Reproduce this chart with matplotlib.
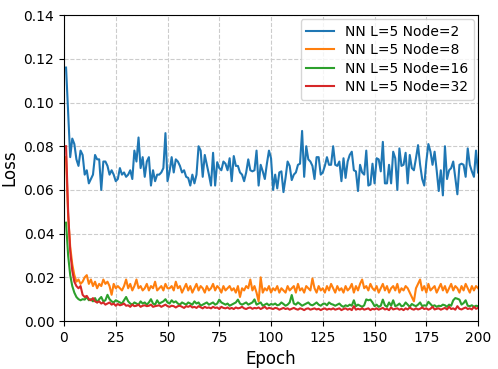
import matplotlib
matplotlib.use("Agg")
import matplotlib.pyplot as plt
import numpy as np

# loss per epoch
loss_n2 = [
    0.116, 0.095, 0.075, 0.0835, 0.081, 0.074, 0.071, 0.078, 0.076, 0.067,
    0.069, 0.063, 0.065, 0.067, 0.076, 0.074, 0.074, 0.060, 0.073, 0.073,
    0.071, 0.067, 0.069, 0.067, 0.064, 0.065, 0.070, 0.067, 0.068, 0.066,
    0.067, 0.069, 0.065, 0.078, 0.073, 0.084, 0.070, 0.075, 0.066, 0.073,
    0.075, 0.062, 0.069, 0.064, 0.067, 0.067, 0.068, 0.070, 0.086, 0.064,
    0.0685, 0.075, 0.068, 0.074, 0.073, 0.071, 0.068, 0.069, 0.066, 0.0655,
    0.062, 0.067, 0.063, 0.067, 0.080, 0.078, 0.066, 0.076, 0.0715, 0.067,
    0.062, 0.077, 0.062, 0.0727, 0.070, 0.069, 0.073, 0.072, 0.069, 0.0745,
    0.064, 0.0755, 0.071, 0.071, 0.068, 0.067, 0.064, 0.068, 0.074, 0.069,
    0.0685, 0.069, 0.078, 0.062, 0.0715, 0.0685, 0.065, 0.072, 0.078, 0.0745,
    0.060, 0.067, 0.0607, 0.068, 0.0685, 0.059, 0.0655, 0.073, 0.071, 0.0645,
    0.067, 0.068, 0.0715, 0.072, 0.087, 0.066, 0.080, 0.074, 0.073, 0.071,
    0.065, 0.075, 0.075, 0.067, 0.068, 0.071, 0.075, 0.0715, 0.0715, 0.080,
    0.0715, 0.071, 0.073, 0.064, 0.0745, 0.0655, 0.073, 0.076, 0.0775, 0.069,
    0.0685, 0.0595, 0.0715, 0.068, 0.067, 0.078, 0.062, 0.0625, 0.072, 0.063,
    0.0745, 0.074, 0.0685, 0.082, 0.063, 0.063, 0.0715, 0.063, 0.0775, 0.0745,
    0.060, 0.079, 0.071, 0.0715, 0.077, 0.063, 0.076, 0.070, 0.069, 0.0745,
    0.0805, 0.0715, 0.065, 0.062, 0.073, 0.081, 0.0775, 0.0715, 0.0775, 0.069,
    0.0595, 0.069, 0.0575, 0.080, 0.065, 0.069, 0.070, 0.073, 0.0655, 0.058,
    0.0715, 0.072, 0.0715, 0.066, 0.079, 0.0715, 0.0685, 0.066, 0.078, 0.068,
]

loss_n8 = [
    0.075, 0.048, 0.034, 0.026, 0.021, 0.018, 0.019, 0.017, 0.018, 0.020,
    0.021, 0.017, 0.019, 0.016, 0.018, 0.015, 0.017, 0.016, 0.019, 0.017,
    0.018, 0.016, 0.012, 0.017, 0.015, 0.016, 0.015, 0.014, 0.016, 0.019,
    0.015, 0.017, 0.014, 0.016, 0.019, 0.015, 0.016, 0.014, 0.015, 0.017,
    0.014, 0.016, 0.015, 0.018, 0.014, 0.015, 0.016, 0.014, 0.017, 0.015,
    0.015, 0.016, 0.014, 0.018, 0.015, 0.016, 0.013, 0.015, 0.017, 0.014,
    0.016, 0.013, 0.015, 0.017, 0.014, 0.016, 0.015, 0.013, 0.016, 0.014,
    0.015, 0.017, 0.014, 0.016, 0.015, 0.013, 0.016, 0.014, 0.015, 0.016,
    0.014, 0.015, 0.013, 0.016, 0.011, 0.015, 0.014, 0.016, 0.015, 0.019,
    0.014, 0.016, 0.013, 0.009, 0.020, 0.013, 0.015, 0.014, 0.016, 0.013,
    0.015, 0.014, 0.016, 0.013, 0.015, 0.014, 0.013, 0.016, 0.014, 0.015,
    0.016, 0.013, 0.017, 0.014, 0.015, 0.013, 0.016, 0.015, 0.014, 0.0195,
    0.015, 0.013, 0.016, 0.014, 0.015, 0.013, 0.016, 0.014, 0.017, 0.015,
    0.013, 0.016, 0.014, 0.015, 0.013, 0.016, 0.014, 0.015, 0.017, 0.013,
    0.016, 0.014, 0.017, 0.019, 0.015, 0.016, 0.014, 0.017, 0.015, 0.014,
    0.016, 0.013, 0.015, 0.017, 0.014, 0.016, 0.013, 0.015, 0.016, 0.014,
    0.017, 0.013, 0.015, 0.014, 0.016, 0.015, 0.013, 0.011, 0.009, 0.015,
    0.017, 0.019, 0.014, 0.016, 0.013, 0.017, 0.014, 0.015, 0.016, 0.013,
    0.015, 0.017, 0.014, 0.016, 0.013, 0.015, 0.017, 0.014, 0.016, 0.015,
    0.013, 0.016, 0.014, 0.017, 0.015, 0.013, 0.016, 0.014, 0.016, 0.015,
]

loss_n16 = [
    0.045, 0.030, 0.021, 0.016, 0.013, 0.011, 0.010, 0.0095, 0.010, 0.0098,
    0.011, 0.0095, 0.010, 0.009, 0.0105, 0.0085, 0.010, 0.011, 0.009, 0.0095,
    0.012, 0.010, 0.009, 0.0085, 0.0095, 0.009, 0.0085, 0.008, 0.0095, 0.011,
    0.009, 0.008, 0.0075, 0.0085, 0.008, 0.0075, 0.009, 0.008, 0.0085, 0.0075,
    0.0085, 0.010, 0.008, 0.0075, 0.0095, 0.008, 0.0085, 0.009, 0.010, 0.0085,
    0.008, 0.0095, 0.0085, 0.009, 0.008, 0.0075, 0.0085, 0.008, 0.0075, 0.0085,
    0.008, 0.0075, 0.009, 0.008, 0.0085, 0.007, 0.0075, 0.008, 0.0085, 0.0075,
    0.008, 0.0085, 0.0075, 0.008, 0.0098, 0.0085, 0.008, 0.0075, 0.008, 0.007,
    0.0075, 0.008, 0.0085, 0.0098, 0.008, 0.0075, 0.008, 0.0085, 0.0075, 0.008,
    0.0085, 0.0099, 0.0075, 0.008, 0.0085, 0.007, 0.0075, 0.008, 0.0072, 0.0078,
    0.0075, 0.008, 0.0072, 0.0075, 0.0085, 0.0078, 0.007, 0.0075, 0.0085, 0.0119,
    0.008, 0.0075, 0.0085, 0.0078, 0.007, 0.0075, 0.008, 0.0085, 0.0075, 0.0072,
    0.0078, 0.0085, 0.0075, 0.007, 0.0078, 0.008, 0.0072, 0.0085, 0.0078, 0.0075,
    0.007, 0.0075, 0.008, 0.007, 0.0065, 0.0072, 0.0068, 0.0075, 0.007, 0.0095,
    0.0068, 0.0075, 0.007, 0.0065, 0.0072, 0.0099, 0.0095, 0.0098, 0.0085, 0.0068,
    0.0075, 0.0065, 0.007, 0.0098, 0.0072, 0.0065, 0.0085, 0.007, 0.0095, 0.0068,
    0.0072, 0.008, 0.0068, 0.007, 0.0085, 0.0075, 0.0065, 0.0078, 0.0072, 0.0068,
    0.0075, 0.0085, 0.0068, 0.0072, 0.007, 0.0088, 0.0078, 0.0068, 0.0072, 0.0065,
    0.007, 0.0068, 0.0075, 0.0072, 0.0065, 0.0075, 0.007, 0.0095, 0.0105, 0.0102,
    0.0098, 0.0075, 0.0082, 0.0095, 0.007, 0.0068, 0.0072, 0.0065, 0.007, 0.0068,
]

loss_n32 = [
    0.080, 0.050, 0.032, 0.023, 0.018, 0.016, 0.015, 0.016, 0.012, 0.011,
    0.0115, 0.010, 0.0095, 0.0105, 0.009, 0.0085, 0.009, 0.008, 0.0085, 0.0075,
    0.008, 0.0085, 0.0075, 0.008, 0.007, 0.0078, 0.0072, 0.0075, 0.008, 0.007,
    0.0072, 0.0065, 0.0075, 0.0068, 0.007, 0.0075, 0.0065, 0.007, 0.0072, 0.0068,
    0.007, 0.0075, 0.0065, 0.0068, 0.007, 0.0072, 0.0065, 0.007, 0.0075, 0.0068,
    0.0065, 0.007, 0.0068, 0.0062, 0.0068, 0.007, 0.0065, 0.006, 0.0068, 0.0065,
    0.007, 0.0062, 0.0065, 0.006, 0.0068, 0.0063, 0.0058, 0.0065, 0.006, 0.0062,
    0.0058, 0.0065, 0.006, 0.0062, 0.0055, 0.0065, 0.006, 0.0058, 0.0062, 0.0056,
    0.006, 0.0055, 0.0062, 0.0058, 0.006, 0.0065, 0.0058, 0.0055, 0.006, 0.0062,
    0.0056, 0.006, 0.0058, 0.0062, 0.0055, 0.006, 0.0065, 0.0056, 0.006, 0.0058,
    0.0055, 0.006, 0.0058, 0.0052, 0.0056, 0.006, 0.0055, 0.0058, 0.0052, 0.0056,
    0.006, 0.0055, 0.0052, 0.0058, 0.0055, 0.005, 0.0056, 0.0058, 0.0052, 0.0055,
    0.0058, 0.0053, 0.0056, 0.005, 0.0055, 0.0058, 0.0052, 0.0056, 0.0053, 0.0058,
    0.0052, 0.0055, 0.0058, 0.005, 0.0055, 0.0058, 0.0052, 0.0056, 0.005, 0.0068,
    0.0052, 0.0056, 0.0053, 0.0058, 0.0052, 0.0055, 0.0058, 0.005, 0.0056, 0.0053,
    0.0058, 0.0052, 0.0056, 0.006, 0.0053, 0.0056, 0.005, 0.0062, 0.0053, 0.0056,
    0.0058, 0.0052, 0.0056, 0.005, 0.0058, 0.0053, 0.0062, 0.0055, 0.0052, 0.0058,
    0.0053, 0.0056, 0.0062, 0.0055, 0.0058, 0.0052, 0.0056, 0.0065, 0.0053, 0.0056,
    0.0058, 0.0052, 0.0056, 0.006, 0.0053, 0.0065, 0.0055, 0.0058, 0.0052, 0.0068,
    0.0056, 0.0053, 0.0058, 0.0062, 0.0055, 0.0058, 0.0053, 0.0065, 0.0056, 0.006,
]

labels = ["NN L=5 Node=2", "NN L=5 Node=8", "NN L=5 Node=16", "NN L=5 Node=32"]
epochs = np.arange(1, len(loss_n2) + 1)

fig = plt.figure(figsize=(4.98, 3.69), dpi=100)
ax = fig.add_axes([0.1285, 0.130, 0.8315, 0.829])

for y, lab in zip([loss_n2, loss_n8, loss_n16, loss_n32], labels):
    ax.plot(epochs, y, linewidth=1.5, label=lab)

ax.set_xlim(0, 200)
ax.set_ylim(0, 0.14)
ax.set_xticks(np.arange(0, 201, 25))
ax.set_yticks(np.arange(0, 0.141, 0.02))
ax.yaxis.set_major_formatter(matplotlib.ticker.FormatStrFormatter('%.2f'))
ax.tick_params(labelsize=10)
ax.grid(True, linestyle='--', color='#cccccc', linewidth=0.8)
ax.set_xlabel("Epoch", fontsize=12)
ax.set_ylabel("Loss", fontsize=12)
ax.legend(loc='upper right', fontsize=10, labelspacing=0.32, borderaxespad=0.3)

fig.savefig("out.png", dpi=100)
